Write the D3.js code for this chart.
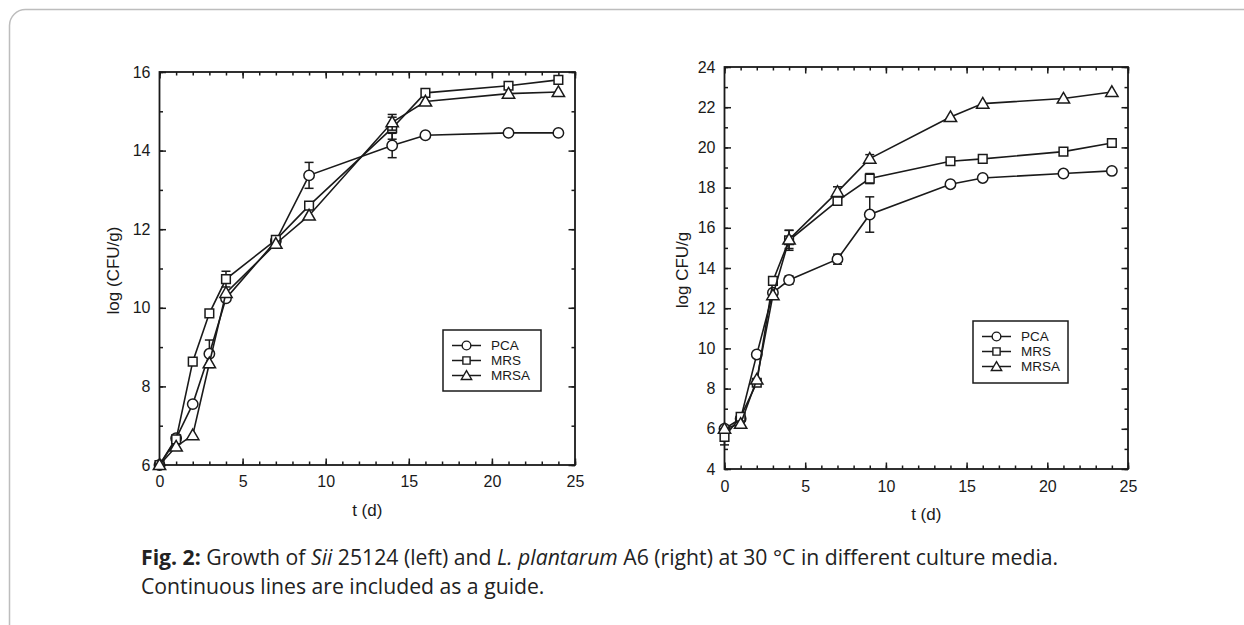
<!DOCTYPE html>
<html><head><meta charset="utf-8">
<script src="https://cdn.jsdelivr.net/npm/d3@7"></script>
<style>body{margin:0;background:#fff}svg{display:block}</style>
</head><body><svg id="c" width="1244" height="625"></svg>
<script>
// ---- data ----
const times = [0, 1, 2, 3, 4, 7, 9, 14, 16, 21, 24];
const seriesNames = ["PCA", "MRS", "MRSA"];
// Left: Sii 25124
const leftPCA  = [6.0, 6.68, 7.55, 8.83, 10.24, 11.70, 13.37, 14.13, 14.39, 14.45, 14.45];
const leftMRS  = [6.0, 6.65, 8.63, 9.86, 10.73, 11.73, 12.60, 14.57, 15.47, 15.65, 15.80];
const leftMRSA = [6.0, 6.47, 6.76, 8.59, 10.38, 11.63, 12.35, 14.72, 15.25, 15.45, 15.49];
const leftPCAerr  = [0, 0.05, 0.05, 0.35, 0.12, 0.05, 0.33, 0.31, 0.05, 0.03, 0.10];
const leftMRSerr  = [0, 0.05, 0.05, 0.05, 0.20, 0.05, 0.05, 0.28, 0.05, 0.05, 0.05];
const leftMRSAerr = [0, 0.05, 0.05, 0.10, 0.05, 0.05, 0.05, 0.20, 0.05, 0.05, 0.10];
// Right: L. plantarum A6
const rightPCA  = [6.0, 6.50, 9.70, 12.77, 13.40, 14.44, 16.66, 18.17, 18.48, 18.70, 18.83];
const rightMRS  = [5.60, 6.60, 8.29, 13.36, 15.38, 17.34, 18.45, 19.31, 19.43, 19.79, 20.22];
const rightMRSA = [6.0, 6.25, 8.45, 12.65, 15.42, 17.79, 19.44, 21.51, 22.18, 22.43, 22.76];
const rightPCAerr  = [0.05, 0.05, 0.10, 0.10, 0.20, 0.25, 0.88, 0.05, 0.05, 0.05, 0.05];
const rightMRSerr  = [0.40, 0.05, 0.10, 0.10, 0.50, 0.15, 0.25, 0.10, 0.05, 0.05, 0.05];
const rightMRSAerr = [0.05, 0.05, 0.05, 0.10, 0.45, 0.25, 0.20, 0.12, 0.05, 0.05, 0.05];
const xTicks = [0, 5, 10, 15, 20, 25];
const leftYTicks = [6, 8, 10, 12, 14, 16];
const rightYTicks = [4, 6, 8, 10, 12, 14, 16, 18, 20, 22, 24];

const svg = d3.select("#c");
const ink = "#1a1a1a";

// card
svg.append("rect").attr("x", 9.5).attr("y", 9.5).attr("width", 1250).attr("height", 640)
  .attr("rx", 16).attr("fill", "none").attr("stroke", "#bdbdbd").attr("stroke-width", 1.5);

function symbolFor(name){
  return name === "PCA" ? d3.symbolCircle : name === "MRS" ? d3.symbolSquare : d3.symbolTriangle;
}
function symbolSize(name){ return name === "PCA" ? 85 : name === "MRS" ? 75 : 66; }

function drawPanel(cfg){
  const g = svg.append("g");
  const x = d3.scaleLinear().domain([0, 25]).range([cfg.x0, cfg.x1]);
  const y = d3.scaleLinear().domain(cfg.yDomain).range([cfg.y0, cfg.y1]);
  const font = "Liberation Sans, Arial, sans-serif";

  const minorX = d3.range(0, 26, 1), minorY = d3.range(cfg.yDomain[0], cfg.yDomain[1] + 1, 1);
  const mk = (axis, scale, vals, size) => axis(scale).tickValues(vals).tickSizeInner(size).tickSizeOuter(0)
      .tickFormat(() => "");
  // bottom
  g.append("g").attr("transform", `translate(0,${cfg.y0})`).call(mk(d3.axisBottom, x, minorX, -3.5));
  g.append("g").attr("transform", `translate(0,${cfg.y0})`)
    .call(d3.axisBottom(x).tickValues(xTicks).tickSizeInner(-6.5).tickSizeOuter(0).tickPadding(cfg.xPad).tickFormat(d3.format("d")));
  // top
  g.append("g").attr("transform", `translate(0,${cfg.y1})`).call(mk(d3.axisTop, x, minorX, -3.5));
  g.append("g").attr("transform", `translate(0,${cfg.y1})`).call(mk(d3.axisTop, x, xTicks, -6.5));
  // left
  g.append("g").attr("transform", `translate(${cfg.x0},0)`).call(mk(d3.axisLeft, y, minorY, -3.5));
  g.append("g").attr("transform", `translate(${cfg.x0},0)`)
    .call(d3.axisLeft(y).tickValues(cfg.yTicks).tickSizeInner(-6.5).tickSizeOuter(0).tickPadding(9).tickFormat(d3.format("d")));
  // right
  g.append("g").attr("transform", `translate(${cfg.x1},0)`).call(mk(d3.axisRight, y, minorY, -3.5));
  g.append("g").attr("transform", `translate(${cfg.x1},0)`).call(mk(d3.axisRight, y, cfg.yTicks, -6.5));

  g.selectAll(".domain").remove();
  g.selectAll(".tick line").attr("stroke", ink).attr("stroke-width", 1.5);
  g.selectAll(".tick text").attr("fill", ink).attr("font-family", font).attr("font-size", 16);

  // frame
  g.append("rect").attr("x", cfg.x0).attr("y", cfg.y1).attr("width", cfg.x1 - cfg.x0).attr("height", cfg.y0 - cfg.y1)
    .attr("fill", "none").attr("stroke", ink).attr("stroke-width", 1.8);

  // titles
  g.append("text").attr("x", (cfg.x0 + cfg.x1) / 2).attr("y", cfg.y0 + 51).attr("text-anchor", "middle")
    .attr("font-family", font).attr("font-size", 17).attr("fill", ink).text("t (d)");
  g.append("text").attr("transform", `translate(${cfg.yTitleX},${(cfg.y0 + cfg.y1) / 2 + 2}) rotate(-90)`)
    .attr("text-anchor", "middle").attr("dominant-baseline", "central")
    .attr("font-family", font).attr("font-size", 17).attr("fill", ink).text(cfg.yTitle);

  // series
  const line = d3.line().x(d => x(d.t)).y(d => y(d.v));
  cfg.series.forEach((vals, si) => {
    const name = seriesNames[si];
    const pts = times.map((t, i) => ({t, v: vals[i], e: cfg.errs[si][i]}));
    g.append("path").datum(pts).attr("d", line).attr("fill", "none").attr("stroke", ink).attr("stroke-width", 1.6);
    const eb = g.append("g").attr("stroke", ink).attr("stroke-width", 1.5);
    pts.filter(d => d.e > 0.12).forEach(d => {
      eb.append("line").attr("x1", x(d.t)).attr("x2", x(d.t)).attr("y1", y(d.v - d.e)).attr("y2", y(d.v + d.e));
      [d.v - d.e, d.v + d.e].forEach(v => eb.append("line").attr("x1", x(d.t) - 4.5).attr("x2", x(d.t) + 4.5)
        .attr("y1", y(v)).attr("y2", y(v)));
    });
    const sym = d3.symbol().type(symbolFor(name)).size(symbolSize(name));
    g.append("g").selectAll("path").data(pts).join("path")
      .attr("transform", d => `translate(${x(d.t)},${y(d.v) + (name === "MRSA" ? 1 : 0)})`)
      .attr("d", sym).attr("fill", "#fff").attr("stroke", ink).attr("stroke-width", 1.5);
  });

  // legend
  const L = cfg.legend;
  g.append("rect").attr("x", L.x).attr("y", L.y).attr("width", L.w).attr("height", L.h)
    .attr("fill", "#fff").attr("stroke", ink).attr("stroke-width", 1.5);
  seriesNames.forEach((name, i) => {
    const yy = L.y + 15.5 + i * 15;
    g.append("line").attr("x1", L.x + 9).attr("x2", L.x + 38).attr("y1", yy).attr("y2", yy)
      .attr("stroke", ink).attr("stroke-width", 1.5);
    g.append("path").attr("transform", `translate(${L.x + 23.5},${yy + (name === "MRSA" ? 1 : 0)})`)
      .attr("d", d3.symbol().type(symbolFor(name)).size(symbolSize(name) * 0.7))
      .attr("fill", "#fff").attr("stroke", ink).attr("stroke-width", 1.4);
    g.append("text").attr("x", L.x + 48).attr("y", yy).attr("dominant-baseline", "central")
      .attr("font-family", font).attr("font-size", 13.5).attr("fill", ink).text(name);
  });
}

drawPanel({
  x0: 159.5, x1: 575, y0: 465, y1: 72, yDomain: [6, 16], yTicks: leftYTicks, xPad: 11,
  yTitle: "log (CFU/g)", yTitleX: 113,
  series: [leftPCA, leftMRS, leftMRSA], errs: [leftPCAerr, leftMRSerr, leftMRSAerr],
  legend: {x: 443, y: 330, w: 98, h: 61}
});
drawPanel({
  x0: 724.5, x1: 1128, y0: 469, y1: 67, yDomain: [4, 24], yTicks: rightYTicks, xPad: 12,
  yTitle: "log CFU/g", yTitleX: 682,
  series: [rightPCA, rightMRS, rightMRSA], errs: [rightPCAerr, rightMRSerr, rightMRSAerr],
  legend: {x: 973, y: 321, w: 95, h: 62}
});

// caption
const cap = svg.append("text").attr("font-family", "Open Sans, Noto Sans, sans-serif").attr("font-size", 21.2).attr("fill", "#222");
const l1 = cap.append("tspan").attr("x", 141).attr("y", 565);
l1.append("tspan").attr("font-weight", "bold").text("Fig. 2:");
l1.append("tspan").text(" Growth of ");
l1.append("tspan").attr("font-style", "italic").text("Sii");
l1.append("tspan").text(" 25124 (left) and ");
l1.append("tspan").attr("font-style", "italic").text("L. plantarum");
l1.append("tspan").text(" A6 (right) at 30 °C in different culture media.");
cap.append("tspan").attr("x", 141).attr("y", 594).text("Continuous lines are included as a guide.");
</script></body></html>
